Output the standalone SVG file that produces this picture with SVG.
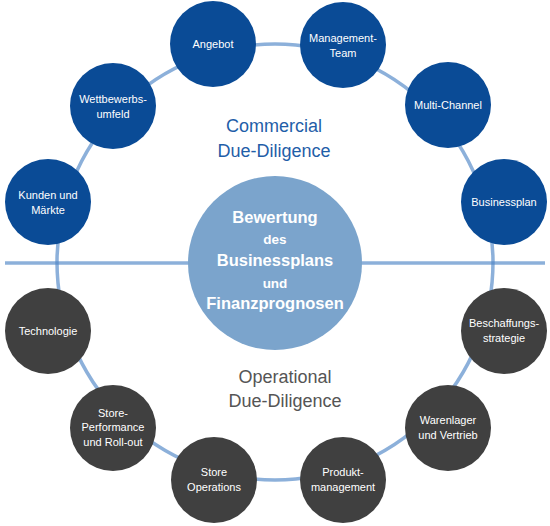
<svg xmlns="http://www.w3.org/2000/svg" width="550" height="526" viewBox="0 0 550 526">
<style>
.ln{fill:none;stroke:#4f86c6;stroke-opacity:0.65;stroke-width:3.5}
.cb{fill:#0a4b96}
.cg{fill:#404040}
.nt{font-family:"Liberation Sans",Arial,sans-serif;font-size:11px;fill:#ffffff;text-anchor:middle}
.ct{font-family:"Liberation Sans",Arial,sans-serif;font-weight:bold;fill:#ffffff;text-anchor:middle}
.sec{font-family:"Liberation Sans",Arial,sans-serif;font-size:18px;text-anchor:middle}
</style>
<rect width="550" height="526" fill="#ffffff"/>
<g id="connectors">
<circle class="ln" cx="275" cy="262" r="218"/>
<line class="ln" x1="5" y1="263" x2="545" y2="263"/>
</g>
<g id="center">
<circle cx="275" cy="263" r="87" fill="#7ba4cc"/>
<text class="ct" x="275" y="223" font-size="16.5">Bewertung</text>
<text class="ct" x="275" y="244" font-size="13.5">des</text>
<text class="ct" x="275" y="266" font-size="16.5">Businessplans</text>
<text class="ct" x="275" y="288" font-size="13.5">und</text>
<text class="ct" x="275" y="309" font-size="16.5">Finanzprognosen</text>
</g>
<g id="commercial-label">
<text class="sec" x="274" y="132" fill="#1f5ea8">Commercial</text>
<text class="sec" x="274" y="157" fill="#1f5ea8">Due-Diligence</text>
</g>
<g id="operational-label">
<text class="sec" x="285" y="383" fill="#555555">Operational</text>
<text class="sec" x="285" y="407" fill="#555555">Due-Diligence</text>
</g>
<g id="n-angebot"><circle class="cb" cx="213" cy="44" r="43"/><text class="nt" x="213" y="48">Angebot</text></g>
<g id="n-management"><circle class="cb" cx="343" cy="45" r="43"/><text class="nt" x="343" y="42">Management-</text><text class="nt" x="343" y="57">Team</text></g>
<g id="n-multichannel"><circle class="cb" cx="448" cy="105" r="43"/><text class="nt" x="448" y="109">Multi-Channel</text></g>
<g id="n-businessplan"><circle class="cb" cx="504" cy="202" r="43"/><text class="nt" x="504" y="206">Businessplan</text></g>
<g id="n-wettbewerb"><circle class="cb" cx="113" cy="106" r="43"/><text class="nt" x="113" y="103">Wettbewerbs-</text><text class="nt" x="113" y="118">umfeld</text></g>
<g id="n-kunden"><circle class="cb" cx="48" cy="202" r="43"/><text class="nt" x="48" y="199">Kunden und</text><text class="nt" x="48" y="214">Märkte</text></g>
<g id="n-technologie"><circle class="cg" cx="48" cy="331" r="43"/><text class="nt" x="48" y="335">Technologie</text></g>
<g id="n-storeperf"><circle class="cg" cx="113" cy="428" r="43"/><text class="nt" x="113" y="417">Store-</text><text class="nt" x="113" y="431">Performance</text><text class="nt" x="113" y="446">und Roll-out</text></g>
<g id="n-storeops"><circle class="cg" cx="214" cy="480" r="43"/><text class="nt" x="214" y="476">Store</text><text class="nt" x="214" y="491">Operations</text></g>
<g id="n-produkt"><circle class="cg" cx="343" cy="480" r="43"/><text class="nt" x="343" y="476">Produkt-</text><text class="nt" x="343" y="491">management</text></g>
<g id="n-warenlager"><circle class="cg" cx="448" cy="428" r="43"/><text class="nt" x="448" y="424">Warenlager</text><text class="nt" x="448" y="439">und Vertrieb</text></g>
<g id="n-beschaffung"><circle class="cg" cx="504" cy="331" r="43"/><text class="nt" x="504" y="327">Beschaffungs-</text><text class="nt" x="504" y="342">strategie</text></g>
</svg>
